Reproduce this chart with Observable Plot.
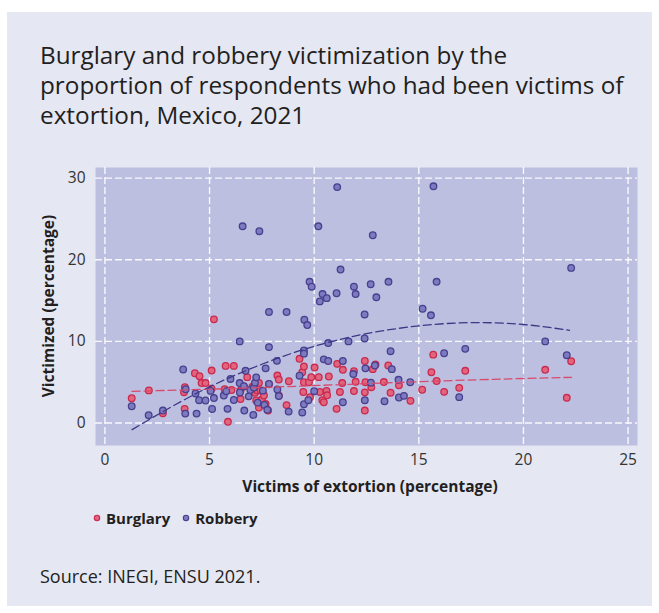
<!DOCTYPE html>
<html><head><meta charset="utf-8">
<script src="https://cdn.jsdelivr.net/npm/d3@7"></script>
<script src="https://cdn.jsdelivr.net/npm/@observablehq/plot@0.6"></script>
<style>
body{margin:0;width:659px;height:613px;background:#fff;position:relative;font-family:"Open Sans",sans-serif;color:#231f20;overflow:hidden}
#panel{position:absolute;left:7px;top:12px;width:645px;height:594px;background:#e5e7f3}
#title{position:absolute;left:40px;top:40px;font-size:24.3px;line-height:30px;width:615px;white-space:nowrap}
#chart{position:absolute;left:7px;top:150px}
#ylab{position:absolute;left:48px;top:306px;transform:translate(-50%,-50%) rotate(-90deg);font-weight:700;font-size:15.5px;white-space:nowrap;color:#231f20}
#xlab{position:absolute;left:370px;top:475px;transform:translateX(-50%);font-weight:700;font-size:15.5px;white-space:nowrap;color:#231f20}
#legend{position:absolute;left:93px;top:507px;font-weight:700;font-size:15px;line-height:22px;display:flex;align-items:center;white-space:nowrap}
#legend .item{display:flex;align-items:center;margin-right:12px}
#legend svg{margin-right:5px}
#source{position:absolute;left:40px;top:564px;font-size:18px}
</style></head>
<body>
<div id="panel"></div>
<div id="title">Burglary and robbery victimization by the<br>proportion of respondents who had been victims of<br>extortion, Mexico, 2021</div>
<div id="chart"></div>
<div id="ylab">Victimized (percentage)</div>
<div id="xlab">Victims of extortion (percentage)</div>
<div id="legend"></div>
<div id="source">Source: INEGI, ENSU 2021.</div>
<script>
// ---- data ----
const seriesNames = ["Burglary", "Robbery"];
const xTicks = [0, 5, 10, 15, 20, 25];
const yTicks = [0, 10, 20, 30];

const burglaryX = [1.28,2.1,2.77,3.78,3.81,3.82,4.3,4.52,4.62,4.81,5.1,5.1,5.21,5.72,5.77,5.88,6.05,6.16,6.48,6.48,6.64,6.8,7.05,7.17,7.23,7.28,7.36,7.36,7.44,7.5,7.6,7.68,7.8,7.84,8.24,8.31,8.31,8.68,8.79,9.3,9.43,9.51,9.51,9.75,9.8,9.48,9.86,10.02,10.22,10.27,10.39,10.46,10.59,10.62,10.7,11.07,11.1,11.23,11.34,11.37,11.9,11.9,11.98,12.42,12.42,12.42,12.45,12.73,12.8,12.93,13.33,13.54,13.65,14.05,14.6,15.16,15.6,15.69,15.85,16.21,16.93,17.22,21.04,22.07,22.28];
const burglaryY = [3.04,4.0,1.2,3.78,1.74,4.39,6.1,5.74,4.9,4.9,6.43,4.2,12.7,4.15,7.0,0.15,4.05,7.0,3.98,2.94,4.47,5.62,4.45,3.7,2.76,4.0,4.92,1.9,3.98,2.88,3.37,2.35,1.53,4.76,5.82,5.33,3.37,2.2,5.12,7.87,6.23,6.92,5.0,5.0,3.16,3.8,5.62,6.8,5.62,3.8,2.8,2.55,3.94,3.4,5.7,1.74,7.25,3.8,4.9,6.52,6.35,3.92,5.05,7.6,3.76,1.53,5.0,4.39,6.6,7.17,5.02,7.05,3.72,4.62,2.72,4.08,6.23,8.38,5.15,3.82,4.31,6.4,6.52,3.09,7.57];

const robberyX = [1.28,2.09,2.77,3.74,3.84,3.86,4.33,4.38,4.5,4.81,5.05,5.12,5.21,5.68,5.8,5.86,6.0,6.16,6.44,6.44,6.45,6.58,6.64,6.66,6.72,6.87,6.95,7.09,7.12,7.17,7.23,7.3,7.38,7.55,7.62,7.68,7.76,7.84,7.84,7.84,8.22,8.24,8.31,8.68,8.78,9.3,9.43,9.51,9.51,9.51,9.53,9.67,9.72,9.78,9.88,10.0,10.2,10.27,10.4,10.46,10.6,10.67,10.67,11.07,11.1,11.26,11.37,11.37,11.64,11.87,11.9,11.98,12.41,12.41,12.42,12.45,12.7,12.71,12.8,12.9,12.97,13.36,13.55,13.65,13.71,14.03,14.05,14.29,14.59,15.18,15.58,15.7,15.85,16.21,16.93,17.22,21.04,22.07,22.28];
const robberyY = [2.06,0.96,1.53,6.56,1.16,4.14,3.62,1.16,2.8,2.76,3.94,1.72,3.06,3.37,3.9,1.74,5.4,2.82,10.0,4.9,3.74,24.1,4.51,1.53,6.4,3.27,4.05,1.0,4.35,4.95,5.6,2.5,23.5,3.97,2.22,6.7,1.62,4.8,9.3,13.6,7.62,4.1,3.3,13.6,1.4,5.8,1.3,8.9,8.5,2.3,12.65,12.0,2.8,17.3,16.7,3.9,24.1,14.9,15.8,7.8,15.3,9.8,7.6,15.9,28.9,18.8,7.6,2.55,10.0,6.0,16.7,15.8,13.3,10.36,2.8,6.7,17.0,4.95,23.0,7.05,15.4,2.67,17.3,8.8,6.6,5.3,3.13,3.33,5.0,14.0,13.2,29.0,17.3,8.55,3.17,9.09,10.0,8.31,19.0];

// fitted trend lines
const burglaryTrendX = [1.3, 8, 16, 22.3];
const burglaryTrendY = [3.88, 4.4, 5.15, 5.6];
const robberyTrendX = [1.3, 4.5, 7.5, 10, 12.5, 15, 17.5, 20, 22.2];
const robberyTrendY = [-0.8, 3.8, 7.2, 9.4, 10.95, 11.9, 12.3, 12.07, 11.35];

const colors = {
  Burglary: {fill: "#e2657f", stroke: "#c92a4e", line: "#d94a6c"},
  Robbery: {fill: "#7d7ac0", stroke: "#483f8e", line: "#3d3886"}
};

const toRows = (xs, ys) => xs.map((x, i) => ({x, y: ys[i]}));
const burglary = toRows(burglaryX, burglaryY);
const robbery = toRows(robberyX, robberyY);
const burglaryTrend = toRows(burglaryTrendX, burglaryTrendY);
const robberyTrend = toRows(robberyTrendX, robberyTrendY);

const gridStyle = {stroke: "#ffffff", strokeOpacity: 0.9, strokeWidth: 1.4, strokeDasharray: "7,3"};

const chart = Plot.plot({
  width: 645, height: 350,
  marginLeft: 88, marginRight: 15, marginTop: 17, marginBottom: 55,
  style: {background: "transparent", fontFamily: "Open Sans", fontSize: "15.5px", color: "#333", overflow: "visible"},
  x: {domain: [-0.45, 25.45]},
  y: {domain: [-2.75, 31.3]},
  marks: [
    Plot.frame({fill: "#bcbfe0", stroke: "none"}),
    Plot.gridX(xTicks, gridStyle),
    Plot.gridY(yTicks, gridStyle),
    Plot.axisX(xTicks, {tickSize: 0, tickPadding: 8, label: null}),
    Plot.axisY(yTicks, {tickSize: 0, tickPadding: 10, label: null}),
    Plot.dot(burglary, {x: "x", y: "y", r: 3.3, fill: colors.Burglary.fill, stroke: colors.Burglary.stroke, strokeWidth: 1.3}),
    Plot.dot(robbery, {x: "x", y: "y", r: 3.3, fill: colors.Robbery.fill, stroke: colors.Robbery.stroke, strokeWidth: 1.3}),
    Plot.line(burglaryTrend, {x: "x", y: "y", stroke: colors.Burglary.line, strokeWidth: 1.3, strokeDasharray: "8,4", curve: "natural"}),
    Plot.line(robberyTrend, {x: "x", y: "y", stroke: colors.Robbery.line, strokeWidth: 1.3, strokeDasharray: "8,4", curve: "natural"})
  ]
});
document.getElementById("chart").appendChild(chart);

const legend = document.getElementById("legend");
for (const name of seriesNames) {
  const item = document.createElement("span");
  item.className = "item";
  item.innerHTML = `<svg width="8" height="8"><circle cx="4" cy="4" r="2.7" fill="${colors[name].fill}" stroke="${colors[name].stroke}" stroke-width="1.1"/></svg>`;
  item.appendChild(document.createTextNode(name));
  legend.appendChild(item);
}
</script>
</body></html>
